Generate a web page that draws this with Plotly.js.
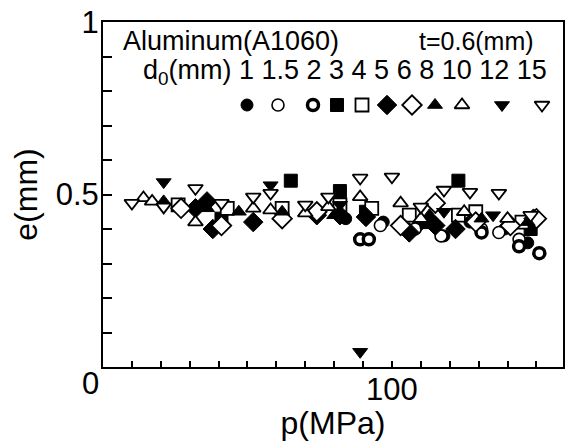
<!DOCTYPE html>
<html>
<head>
<meta charset="utf-8">
<script src="https://cdn.plot.ly/plotly-3.0.1.min.js"></script>
<style>html,body{margin:0;padding:0;background:#fff;}#chart{width:565px;height:441px;}</style>
</head>
<body>
<div id="chart"></div>
<script>
// d0 (mm) series: pressure p (MPa) and e (mm)
var d0Labels = ['1', '1.5', '2', '3', '4', '5', '6', '8', '10', '12', '15'];

var p_d1   = [84, 97, 109, 118, 127, 139, 147];
var e_d1   = [0.43, 0.42, 0.41, 0.38, 0.42, 0.40, 0.36];

var p_d1_5 = [96, 108, 117, 131, 137, 144];
var e_d1_5 = [0.41, 0.40, 0.38, 0.40, 0.39, 0.37];

var p_d2   = [89, 92, 131, 144, 151];
var e_d2   = [0.37, 0.37, 0.39, 0.35, 0.33];

var p_d3   = [41, 65, 82, 91, 112, 123, 148];
var e_d3   = [0.43, 0.54, 0.51, 0.45, 0.42, 0.54, 0.40];

var p_d4   = [26, 43, 62, 82, 93, 106, 123, 129, 145];
var e_d4   = [0.47, 0.46, 0.46, 0.47, 0.46, 0.44, 0.44, 0.45, 0.42];

var p_d5   = [32, 36, 38, 52, 74, 82, 91, 106, 115, 122, 149];
var e_d5   = [0.46, 0.48, 0.40, 0.42, 0.44, 0.44, 0.435, 0.39, 0.41, 0.40, 0.43];

var p_d6   = [27, 41, 62, 74, 103, 115, 129, 141, 150];
var e_d6   = [0.46, 0.41, 0.43, 0.45, 0.41, 0.475, 0.42, 0.41, 0.43];

var p_d8   = [21, 36, 47, 62, 80, 91, 113, 131, 147];
var e_d8   = [0.48, 0.46, 0.45, 0.45, 0.44, 0.44, 0.44, 0.43, 0.42];

var p_d10  = [14, 17, 32, 52, 58, 70, 78, 89, 103, 110, 125, 140];
var e_d10  = [0.49, 0.48, 0.42, 0.46, 0.455, 0.446, 0.464, 0.493, 0.475, 0.43, 0.45, 0.43];

var p_d12  = [21, 34, 58, 82, 89, 118, 135];
var e_d12  = [0.536, 0.47, 0.527, 0.47, 0.044, 0.45, 0.44];

var p_d15  = [10, 21, 32, 41, 52, 58, 70, 78, 89, 100, 110, 118, 127, 137, 148];
var e_d15  = [0.475, 0.464, 0.518, 0.475, 0.493, 0.504, 0.47, 0.493, 0.548, 0.551, 0.464, 0.513, 0.507, 0.504, 0.44];

var xTickVals = [0, 10, 20, 30, 40, 50, 60, 70, 80, 90, 100, 110, 120, 130, 140, 150];
var xTickText = ['', '', '', '', '', '', '', '', '', '', '100', '', '', '', '', ''];
var yTickVals = [0, 0.1, 0.2, 0.3, 0.4, 0.5, 0.6, 0.7, 0.8, 0.9, 1];
var yTickText = ['', '', '', '', '', '0.5', '', '', '', '', '1'];

var seriesP = [p_d1, p_d1_5, p_d2, p_d3, p_d4, p_d5, p_d6, p_d8, p_d10, p_d12, p_d15];
var seriesE = [e_d1, e_d1_5, e_d2, e_d3, e_d4, e_d5, e_d6, e_d8, e_d10, e_d12, e_d15];

// marker styles: [symbol, filled, size, linewidth]
var styles = [
  ['circle', true, 12, 1],
  ['circle', false, 12, 1.6],
  ['circle', false, 11, 3.5],
  ['square', true, 13, 1],
  ['square', false, 13, 1.8],
  ['diamond', true, 15, 1],
  ['diamond', false, 15, 1.8],
  ['triangle-up', true, 13, 1],
  ['triangle-up', false, 13, 1.8],
  ['triangle-down', true, 13, 1],
  ['triangle-down', false, 13, 1.8]
];

// key (legend) layout: pixel positions of the key symbols inside the frame
var keyPx = [247, 278, 313, 337, 362, 387, 412, 435, 462, 502, 542];
var keyPy = 105;

var font = 'Liberation Sans, Arial, Helvetica, sans-serif';
function px2x(px) { return (px - 103) / 460; }
function px2y(py) { return (367 - py) / 345; }

function markerOf(s) {
  return {
    symbol: s[0],
    size: s[2],
    color: s[1] ? '#000' : '#fff',
    line: {color: '#000', width: s[3]}
  };
}

var traces = seriesP.map(function (px, i) {
  return {
    type: 'scatter',
    mode: 'markers',
    x: px,
    y: seriesE[i],
    name: 'd0=' + d0Labels[i] + ' mm',
    showlegend: false,
    hoverinfo: 'x+y',
    marker: markerOf(styles[i])
  };
});

// key symbols drawn on an overlay axis spanning the frame as [0,1]
styles.forEach(function (s, i) {
  traces.push({
    type: 'scatter',
    mode: 'markers',
    xaxis: 'x2',
    yaxis: 'y2',
    x: [px2x(keyPx[i])],
    y: [px2y(keyPy)],
    name: 'key ' + d0Labels[i],
    showlegend: false,
    hoverinfo: 'skip',
    marker: markerOf(s)
  });
});

var layout = {
  width: 565,
  height: 441,
  margin: {l: 103, r: 2, t: 22, b: 74, pad: 0},
  paper_bgcolor: '#fff',
  plot_bgcolor: '#fff',
  font: {family: font, color: '#000'},
  showlegend: false,
  xaxis: {
    range: [0, 159.2],
    tickmode: 'array',
    tickvals: xTickVals,
    ticktext: xTickText,
    ticks: 'inside',
    ticklen: 6,
    tickwidth: 2,
    tickcolor: '#000',
    showline: true,
    linecolor: '#000',
    linewidth: 2,
    mirror: true,
    showgrid: false,
    zeroline: false,
    ticklabelstandoff: -6,
    tickfont: {size: 31, family: font},
    title: {text: 'p(MPa)', font: {size: 32, family: font}, standoff: 0}
  },
  yaxis: {
    range: [0, 1],
    tickmode: 'array',
    tickvals: yTickVals,
    ticktext: yTickText,
    ticks: 'inside',
    ticklen: 9,
    tickwidth: 2,
    tickcolor: '#000',
    showline: true,
    linecolor: '#000',
    linewidth: 2,
    mirror: true,
    showgrid: false,
    zeroline: false,
    ticklabelstandoff: -4,
    tickfont: {size: 31, family: font},
    title: {text: 'e(mm)', font: {size: 32, family: font}, standoff: 8}
  },
  xaxis2: {overlaying: 'x', anchor: 'y2', range: [0, 1], visible: false, fixedrange: true},
  yaxis2: {overlaying: 'y', anchor: 'x2', range: [0, 1], visible: false, fixedrange: true},
  annotations: [
    {xref: 'paper', yref: 'paper', x: px2x(121), y: px2y(41), xanchor: 'left', yanchor: 'middle',
     text: 'Aluminum(A1060)', showarrow: false, font: {size: 27, family: font}},
    {xref: 'paper', yref: 'paper', x: px2x(536), y: px2y(41), xanchor: 'right', yanchor: 'middle',
     text: 't=0.6(mm)', showarrow: false, font: {size: 25, family: font}},
    {xref: 'paper', yref: 'paper', x: px2x(141), y: px2y(72), xanchor: 'left', yanchor: 'middle',
     text: 'd<sub>0</sub>(mm) ' + d0Labels.join(' '), showarrow: false, font: {size: 27, family: font}},
    {xref: 'paper', yref: 'paper', x: px2x(90), y: px2y(383), xanchor: 'center', yanchor: 'middle',
     text: '0', showarrow: false, font: {size: 31, family: font}}
  ]
};

Plotly.newPlot('chart', traces, layout, {displayModeBar: false, staticPlot: true});
</script>
</body>
</html>
